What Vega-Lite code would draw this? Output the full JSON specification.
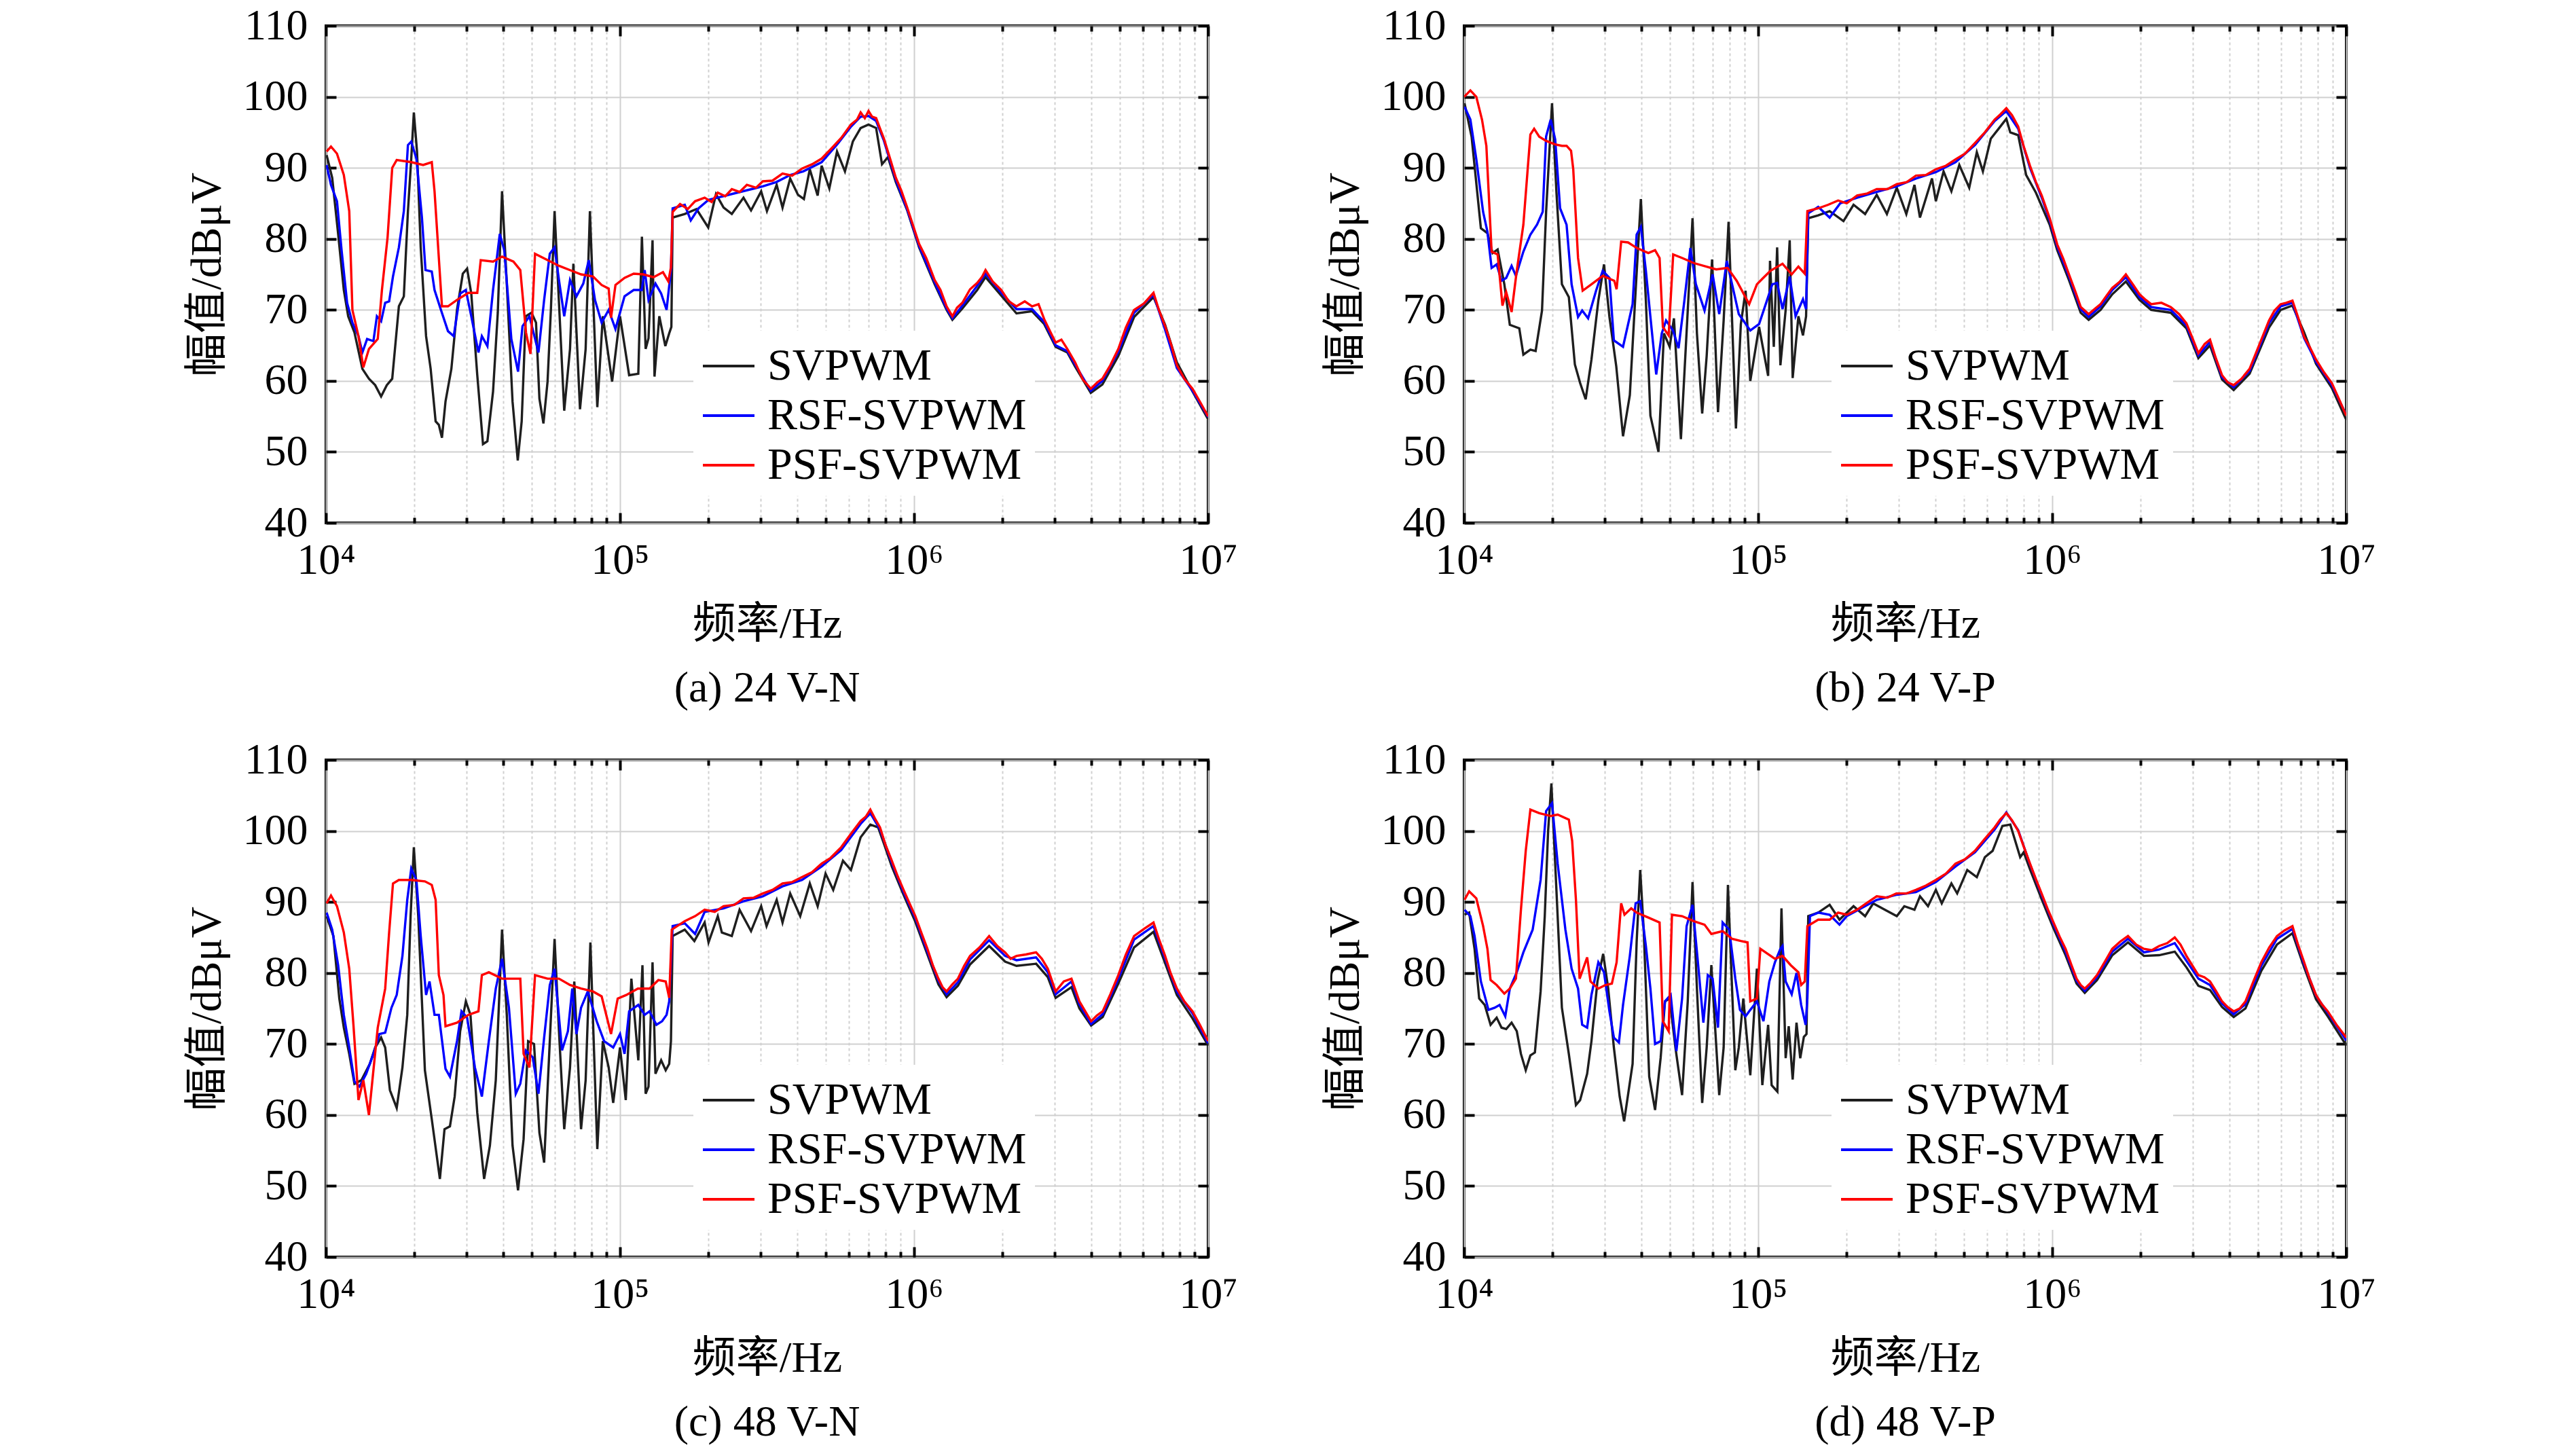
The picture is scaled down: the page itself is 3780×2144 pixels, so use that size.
{
  "$schema": "https://vega.github.io/schema/vega-lite/v6.json",
  "background": "white",
  "padding": {"left": 271, "top": 4, "right": 0, "bottom": 0},
  "config": {
    "font": "Liberation Serif, Noto Sans CJK SC",
    "view": {"stroke": "#000000", "strokeWidth": 4},
    "axis": {
      "labelFont": "Liberation Serif", "labelFontSize": 64, "labelColor": "#000000",
      "titleFont": "Liberation Serif, Noto Sans CJK SC", "titleFontSize": 64, "titleFontWeight": "normal", "titleColor": "#000000",
      "domain": false, "tickColor": "#000000", "tickWidth": 4, "gridColor": "#d0d0d0", "gridWidth": 2
    },
    "legend": {
      "orient": "none", "legendX": 541, "legendY": 449, "symbolType": "stroke", "symbolSize": 5776, "symbolStrokeWidth": 4,
      "labelFont": "Liberation Serif", "labelFontSize": 66, "labelColor": "#000000", "labelOffset": 17, "labelLimit": 1000,
      "rowPadding": -10, "padding": 12, "fillColor": "#ffffff"
    },
    "title": {"font": "Liberation Serif", "fontSize": 64, "fontWeight": "normal", "color": "#000000", "anchor": "middle"}
  },
  "datasets": {
    "a": [
      {"s":"k","f":10050,"v":91.8},{"s":"k","f":10500,"v":88.6},{"s":"k","f":11000,"v":80.7},{"s":"k","f":11500,"v":72.8},{"s":"k","f":11900,"v":69.1},{"s":"k","f":12500,"v":66.8},{"s":"k","f":13300,"v":61.7},{"s":"k","f":14000,"v":60.3},{"s":"k","f":14700,"v":59.4},{"s":"k","f":15400,"v":57.8},{"s":"k","f":16100,"v":59.4},{"s":"k","f":16800,"v":60.3},{"s":"k","f":17700,"v":70.5},{"s":"k","f":18400,"v":71.9},{"s":"k","f":19000,"v":83.9},{"s":"k","f":19500,"v":91.3},{"s":"k","f":19900,"v":97.8},{"s":"k","f":20400,"v":92.3},{"s":"k","f":21000,"v":78.8},{"s":"k","f":21900,"v":66.3},{"s":"k","f":22700,"v":61.7},{"s":"k","f":23600,"v":54.3},{"s":"k","f":24200,"v":53.8},{"s":"k","f":24800,"v":52.0},{"s":"k","f":25500,"v":57.1},{"s":"k","f":26700,"v":61.7},{"s":"k","f":27900,"v":70.0},{"s":"k","f":29200,"v":75.1},{"s":"k","f":30200,"v":75.8},{"s":"k","f":31200,"v":72.3},{"s":"k","f":32700,"v":60.8},{"s":"k","f":34200,"v":51.1},{"s":"k","f":35400,"v":51.5},{"s":"k","f":37000,"v":58.5},{"s":"k","f":38400,"v":69.6},{"s":"k","f":39700,"v":86.7},{"s":"k","f":41200,"v":73.7},{"s":"k","f":43100,"v":57.1},{"s":"k","f":44900,"v":48.8},{"s":"k","f":46300,"v":54.3},{"s":"k","f":47800,"v":69.1},{"s":"k","f":50000,"v":69.6},{"s":"k","f":51800,"v":68.2},{"s":"k","f":53200,"v":57.5},{"s":"k","f":54900,"v":54.0},{"s":"k","f":56700,"v":59.9},{"s":"k","f":58200,"v":70.0},{"s":"k","f":59900,"v":83.9},{"s":"k","f":62000,"v":71.0},{"s":"k","f":64600,"v":55.8},{"s":"k","f":67600,"v":64.5},{"s":"k","f":69400,"v":76.5},{"s":"k","f":73100,"v":56.0},{"s":"k","f":76400,"v":64.5},{"s":"k","f":79000,"v":83.9},{"s":"k","f":83700,"v":56.3},{"s":"k","f":87400,"v":69.1},{"s":"k","f":94000,"v":59.9},{"s":"k","f":100000,"v":69.1},{"s":"k","f":107400,"v":60.8},{"s":"k","f":115400,"v":61.0},{"s":"k","f":118700,"v":80.3},{"s":"k","f":122200,"v":64.5},{"s":"k","f":125000,"v":66.0},{"s":"k","f":129000,"v":79.8},{"s":"k","f":131000,"v":60.6},{"s":"k","f":136000,"v":69.1},{"s":"k","f":142600,"v":64.9},{"s":"k","f":147000,"v":66.7},{"s":"k","f":149500,"v":67.6},{"s":"k","f":151000,"v":83.0},{"s":"k","f":166000,"v":83.5},{"s":"k","f":182000,"v":84.2},{"s":"k","f":199500,"v":81.6},{"s":"k","f":212000,"v":86.3},{"s":"k","f":225000,"v":84.4},{"s":"k","f":240000,"v":83.5},{"s":"k","f":263000,"v":85.8},{"s":"k","f":279000,"v":84.0},{"s":"k","f":302000,"v":86.7},{"s":"k","f":316000,"v":83.9},{"s":"k","f":341000,"v":87.6},{"s":"k","f":357000,"v":84.4},{"s":"k","f":379000,"v":88.5},{"s":"k","f":403000,"v":86.2},{"s":"k","f":422000,"v":85.6},{"s":"k","f":442000,"v":89.8},{"s":"k","f":470000,"v":86.1},{"s":"k","f":485000,"v":90.3},{"s":"k","f":515000,"v":87.1},{"s":"k","f":547000,"v":92.3},{"s":"k","f":582000,"v":89.5},{"s":"k","f":619000,"v":93.7},{"s":"k","f":658000,"v":95.6},{"s":"k","f":700000,"v":96.1},{"s":"k","f":743000,"v":95.6},{"s":"k","f":778000,"v":90.5},{"s":"k","f":815000,"v":91.5},{"s":"k","f":867000,"v":88.0},{"s":"k","f":948000,"v":84.0},{"s":"k","f":1040000,"v":78.8},{"s":"k","f":1175000,"v":73.6},{"s":"k","f":1290000,"v":70.0},{"s":"k","f":1350000,"v":68.6},{"s":"k","f":1460000,"v":70.2},{"s":"k","f":1640000,"v":72.8},{"s":"k","f":1750000,"v":74.6},{"s":"k","f":1980000,"v":72.0},{"s":"k","f":2230000,"v":69.5},{"s":"k","f":2520000,"v":69.8},{"s":"k","f":2770000,"v":68.0},{"s":"k","f":3030000,"v":64.8},{"s":"k","f":3320000,"v":64.0},{"s":"k","f":3530000,"v":62.0},{"s":"k","f":3990000,"v":58.3},{"s":"k","f":4370000,"v":59.5},{"s":"k","f":4950000,"v":63.5},{"s":"k","f":5600000,"v":69.0},{"s":"k","f":6520000,"v":71.8},{"s":"k","f":7140000,"v":67.9},{"s":"k","f":7830000,"v":62.6},{"s":"k","f":8850000,"v":58.5},{"s":"k","f":10000000,"v":54.6},
      {"s":"b","f":10050,"v":90.4},{"s":"b","f":10400,"v":87.6},{"s":"b","f":10900,"v":85.3},{"s":"b","f":11300,"v":78.4},{"s":"b","f":11800,"v":71.0},{"s":"b","f":12300,"v":68.2},{"s":"b","f":12900,"v":66.3},{"s":"b","f":13300,"v":64.0},{"s":"b","f":13800,"v":65.9},{"s":"b","f":14500,"v":65.6},{"s":"b","f":14900,"v":69.1},{"s":"b","f":15400,"v":68.4},{"s":"b","f":15900,"v":71.0},{"s":"b","f":16400,"v":71.2},{"s":"b","f":16900,"v":74.7},{"s":"b","f":17700,"v":78.8},{"s":"b","f":18400,"v":83.9},{"s":"b","f":19000,"v":93.2},{"s":"b","f":19500,"v":93.7},{"s":"b","f":20300,"v":91.3},{"s":"b","f":21200,"v":83.0},{"s":"b","f":21800,"v":75.6},{"s":"b","f":22900,"v":75.4},{"s":"b","f":23400,"v":72.8},{"s":"b","f":24600,"v":70.0},{"s":"b","f":26000,"v":67.0},{"s":"b","f":27200,"v":66.3},{"s":"b","f":28600,"v":72.3},{"s":"b","f":29900,"v":72.8},{"s":"b","f":31200,"v":69.1},{"s":"b","f":33000,"v":64.0},{"s":"b","f":33900,"v":66.3},{"s":"b","f":35400,"v":64.9},{"s":"b","f":37000,"v":72.8},{"s":"b","f":39000,"v":80.7},{"s":"b","f":40400,"v":78.4},{"s":"b","f":42700,"v":65.9},{"s":"b","f":45000,"v":61.3},{"s":"b","f":46600,"v":67.7},{"s":"b","f":49200,"v":69.1},{"s":"b","f":52800,"v":64.0},{"s":"b","f":55200,"v":71.4},{"s":"b","f":57700,"v":77.9},{"s":"b","f":59900,"v":78.8},{"s":"b","f":62000,"v":74.2},{"s":"b","f":64600,"v":69.1},{"s":"b","f":67600,"v":74.2},{"s":"b","f":71100,"v":71.9},{"s":"b","f":75000,"v":73.7},{"s":"b","f":78300,"v":77.0},{"s":"b","f":82200,"v":71.4},{"s":"b","f":86600,"v":68.2},{"s":"b","f":91500,"v":70.0},{"s":"b","f":96500,"v":67.3},{"s":"b","f":103600,"v":71.9},{"s":"b","f":111300,"v":72.8},{"s":"b","f":118600,"v":72.8},{"s":"b","f":121300,"v":75.6},{"s":"b","f":125000,"v":71.4},{"s":"b","f":132000,"v":73.7},{"s":"b","f":138000,"v":72.3},{"s":"b","f":144000,"v":70.0},{"s":"b","f":149000,"v":75.6},{"s":"b","f":151000,"v":84.3},{"s":"b","f":166000,"v":84.8},{"s":"b","f":174000,"v":82.6},{"s":"b","f":185000,"v":84.3},{"s":"b","f":200000,"v":85.5},{"s":"b","f":225000,"v":86.0},{"s":"b","f":250000,"v":86.5},{"s":"b","f":280000,"v":87.0},{"s":"b","f":306000,"v":87.4},{"s":"b","f":340000,"v":88.0},{"s":"b","f":380000,"v":89.0},{"s":"b","f":420000,"v":89.5},{"s":"b","f":485000,"v":90.8},{"s":"b","f":550000,"v":93.4},{"s":"b","f":610000,"v":95.8},{"s":"b","f":658000,"v":97.2},{"s":"b","f":700000,"v":97.3},{"s":"b","f":743000,"v":96.6},{"s":"b","f":790000,"v":93.8},{"s":"b","f":867000,"v":88.3},{"s":"b","f":948000,"v":84.1},{"s":"b","f":1040000,"v":79.0},{"s":"b","f":1175000,"v":73.9},{"s":"b","f":1290000,"v":70.2},{"s":"b","f":1350000,"v":68.8},{"s":"b","f":1460000,"v":70.6},{"s":"b","f":1640000,"v":73.4},{"s":"b","f":1750000,"v":75.1},{"s":"b","f":1980000,"v":72.4},{"s":"b","f":2230000,"v":70.1},{"s":"b","f":2520000,"v":70.1},{"s":"b","f":2770000,"v":68.3},{"s":"b","f":3030000,"v":65.0},{"s":"b","f":3320000,"v":64.2},{"s":"b","f":3530000,"v":62.3},{"s":"b","f":3990000,"v":58.6},{"s":"b","f":4370000,"v":60.0},{"s":"b","f":4950000,"v":64.1},{"s":"b","f":5600000,"v":69.6},{"s":"b","f":6520000,"v":72.1},{"s":"b","f":7140000,"v":67.2},{"s":"b","f":7830000,"v":61.8},{"s":"b","f":8850000,"v":58.6},{"s":"b","f":10000000,"v":54.9},
      {"s":"r","f":10050,"v":92.3},{"s":"r","f":10400,"v":93.0},{"s":"r","f":10900,"v":92.0},{"s":"r","f":11500,"v":89.0},{"s":"r","f":12000,"v":83.9},{"s":"r","f":12300,"v":70.0},{"s":"r","f":12900,"v":66.3},{"s":"r","f":13400,"v":61.9},{"s":"r","f":14000,"v":64.5},{"s":"r","f":15000,"v":65.9},{"s":"r","f":15500,"v":72.8},{"s":"r","f":16200,"v":80.2},{"s":"r","f":16800,"v":90.0},{"s":"r","f":17400,"v":91.1},{"s":"r","f":19500,"v":90.8},{"s":"r","f":21400,"v":90.4},{"s":"r","f":22900,"v":90.8},{"s":"r","f":23400,"v":86.7},{"s":"r","f":24800,"v":70.5},{"s":"r","f":26000,"v":70.5},{"s":"r","f":27900,"v":71.4},{"s":"r","f":30500,"v":72.4},{"s":"r","f":32700,"v":72.4},{"s":"r","f":33600,"v":77.0},{"s":"r","f":37000,"v":76.8},{"s":"r","f":39700,"v":77.5},{"s":"r","f":43400,"v":76.8},{"s":"r","f":45800,"v":75.6},{"s":"r","f":47900,"v":66.8},{"s":"r","f":49600,"v":63.8},{"s":"r","f":51400,"v":77.9},{"s":"r","f":56700,"v":77.0},{"s":"r","f":62000,"v":76.2},{"s":"r","f":67600,"v":75.6},{"s":"r","f":73700,"v":75.0},{"s":"r","f":80900,"v":74.7},{"s":"r","f":86600,"v":73.5},{"s":"r","f":91500,"v":73.0},{"s":"r","f":93200,"v":68.9},{"s":"r","f":96500,"v":73.5},{"s":"r","f":103600,"v":74.5},{"s":"r","f":111300,"v":75.1},{"s":"r","f":120000,"v":75.0},{"s":"r","f":130000,"v":74.6},{"s":"r","f":140000,"v":75.3},{"s":"r","f":146000,"v":74.0},{"s":"r","f":149000,"v":76.0},{"s":"r","f":151000,"v":83.8},{"s":"r","f":160000,"v":84.9},{"s":"r","f":170000,"v":84.2},{"s":"r","f":180000,"v":85.3},{"s":"r","f":194000,"v":85.8},{"s":"r","f":205000,"v":85.2},{"s":"r","f":215000,"v":86.5},{"s":"r","f":228000,"v":86.0},{"s":"r","f":240000,"v":87.0},{"s":"r","f":255000,"v":86.6},{"s":"r","f":270000,"v":87.6},{"s":"r","f":290000,"v":87.2},{"s":"r","f":306000,"v":88.1},{"s":"r","f":330000,"v":88.2},{"s":"r","f":357000,"v":89.2},{"s":"r","f":385000,"v":88.9},{"s":"r","f":416000,"v":89.9},{"s":"r","f":450000,"v":90.5},{"s":"r","f":485000,"v":91.3},{"s":"r","f":520000,"v":92.6},{"s":"r","f":565000,"v":94.2},{"s":"r","f":610000,"v":96.1},{"s":"r","f":640000,"v":96.8},{"s":"r","f":658000,"v":97.8},{"s":"r","f":680000,"v":97.0},{"s":"r","f":700000,"v":98.0},{"s":"r","f":720000,"v":97.2},{"s":"r","f":743000,"v":97.0},{"s":"r","f":765000,"v":95.6},{"s":"r","f":790000,"v":94.1},{"s":"r","f":830000,"v":91.2},{"s":"r","f":867000,"v":88.6},{"s":"r","f":905000,"v":86.8},{"s":"r","f":948000,"v":84.4},{"s":"r","f":990000,"v":82.0},{"s":"r","f":1040000,"v":79.3},{"s":"r","f":1100000,"v":77.3},{"s":"r","f":1175000,"v":74.2},{"s":"r","f":1230000,"v":72.8},{"s":"r","f":1290000,"v":70.5},{"s":"r","f":1350000,"v":69.1},{"s":"r","f":1400000,"v":70.3},{"s":"r","f":1460000,"v":71.0},{"s":"r","f":1550000,"v":72.9},{"s":"r","f":1640000,"v":73.8},{"s":"r","f":1700000,"v":74.6},{"s":"r","f":1750000,"v":75.6},{"s":"r","f":1850000,"v":74.0},{"s":"r","f":1980000,"v":72.8},{"s":"r","f":2100000,"v":71.2},{"s":"r","f":2230000,"v":70.5},{"s":"r","f":2380000,"v":71.2},{"s":"r","f":2520000,"v":70.5},{"s":"r","f":2650000,"v":70.8},{"s":"r","f":2770000,"v":68.7},{"s":"r","f":2900000,"v":67.0},{"s":"r","f":3030000,"v":65.4},{"s":"r","f":3170000,"v":65.8},{"s":"r","f":3320000,"v":64.5},{"s":"r","f":3530000,"v":62.6},{"s":"r","f":3750000,"v":60.2},{"s":"r","f":3990000,"v":58.9},{"s":"r","f":4200000,"v":59.8},{"s":"r","f":4370000,"v":60.3},{"s":"r","f":4650000,"v":62.2},{"s":"r","f":4950000,"v":64.5},{"s":"r","f":5250000,"v":67.5},{"s":"r","f":5600000,"v":70.0},{"s":"r","f":6050000,"v":70.9},{"s":"r","f":6520000,"v":72.4},{"s":"r","f":6800000,"v":70.0},{"s":"r","f":7140000,"v":67.7},{"s":"r","f":7500000,"v":65.0},{"s":"r","f":7830000,"v":62.2},{"s":"r","f":8300000,"v":60.3},{"s":"r","f":8850000,"v":58.9},{"s":"r","f":9400000,"v":57.0},{"s":"r","f":10000000,"v":55.0}
    ],
    "b": [
      {"s":"k","f":10030,"v":99.1},{"s":"k","f":10600,"v":94.4},{"s":"k","f":11400,"v":81.5},{"s":"k","f":12000,"v":80.8},{"s":"k","f":12500,"v":78.0},{"s":"k","f":13000,"v":78.5},{"s":"k","f":13700,"v":73.6},{"s":"k","f":14300,"v":67.9},{"s":"k","f":15400,"v":67.4},{"s":"k","f":15900,"v":63.7},{"s":"k","f":16800,"v":64.4},{"s":"k","f":17500,"v":64.2},{"s":"k","f":18400,"v":69.9},{"s":"k","f":19000,"v":83.8},{"s":"k","f":19900,"v":99.1},{"s":"k","f":20600,"v":86.6},{"s":"k","f":21500,"v":73.6},{"s":"k","f":22700,"v":71.8},{"s":"k","f":23800,"v":62.3},{"s":"k","f":24800,"v":59.7},{"s":"k","f":25900,"v":57.4},{"s":"k","f":27100,"v":63.0},{"s":"k","f":28600,"v":71.3},{"s":"k","f":29900,"v":76.4},{"s":"k","f":31200,"v":69.0},{"s":"k","f":32900,"v":62.1},{"s":"k","f":34700,"v":52.2},{"s":"k","f":36600,"v":58.0},{"s":"k","f":38300,"v":72.7},{"s":"k","f":39900,"v":85.6},{"s":"k","f":41500,"v":71.3},{"s":"k","f":43000,"v":55.1},{"s":"k","f":45800,"v":50.0},{"s":"k","f":47800,"v":66.7},{"s":"k","f":50000,"v":64.8},{"s":"k","f":51700,"v":68.8},{"s":"k","f":54600,"v":51.8},{"s":"k","f":57600,"v":69.9},{"s":"k","f":59800,"v":82.9},{"s":"k","f":61900,"v":66.7},{"s":"k","f":64500,"v":55.4},{"s":"k","f":66800,"v":63.5},{"s":"k","f":69700,"v":77.1},{"s":"k","f":73000,"v":55.6},{"s":"k","f":76300,"v":68.5},{"s":"k","f":79300,"v":82.4},{"s":"k","f":84000,"v":53.3},{"s":"k","f":87300,"v":68.0},{"s":"k","f":90600,"v":72.7},{"s":"k","f":94000,"v":60.0},{"s":"k","f":100700,"v":67.6},{"s":"k","f":108100,"v":60.7},{"s":"k","f":109700,"v":76.9},{"s":"k","f":113000,"v":64.8},{"s":"k","f":116000,"v":78.8},{"s":"k","f":119000,"v":62.2},{"s":"k","f":124000,"v":70.0},{"s":"k","f":128000,"v":79.8},{"s":"k","f":131000,"v":60.4},{"s":"k","f":137000,"v":69.1},{"s":"k","f":142000,"v":66.4},{"s":"k","f":145500,"v":69.1},{"s":"k","f":148000,"v":82.9},{"s":"k","f":160000,"v":83.3},{"s":"k","f":175000,"v":83.9},{"s":"k","f":195000,"v":82.5},{"s":"k","f":211000,"v":84.8},{"s":"k","f":231000,"v":83.5},{"s":"k","f":253000,"v":86.2},{"s":"k","f":274000,"v":83.5},{"s":"k","f":296000,"v":87.2},{"s":"k","f":319000,"v":83.5},{"s":"k","f":340000,"v":87.6},{"s":"k","f":355000,"v":83.0},{"s":"k","f":390000,"v":88.5},{"s":"k","f":402000,"v":85.3},{"s":"k","f":427000,"v":89.5},{"s":"k","f":454000,"v":86.7},{"s":"k","f":483000,"v":90.4},{"s":"k","f":522000,"v":87.2},{"s":"k","f":554000,"v":92.2},{"s":"k","f":581000,"v":89.5},{"s":"k","f":618000,"v":94.1},{"s":"k","f":657000,"v":95.5},{"s":"k","f":698000,"v":96.9},{"s":"k","f":720000,"v":95.0},{"s":"k","f":766000,"v":94.6},{"s":"k","f":815000,"v":89.0},{"s":"k","f":880000,"v":86.5},{"s":"k","f":980000,"v":82.0},{"s":"k","f":1040000,"v":78.4},{"s":"k","f":1140000,"v":74.2},{"s":"k","f":1250000,"v":69.6},{"s":"k","f":1330000,"v":68.6},{"s":"k","f":1460000,"v":70.0},{"s":"k","f":1600000,"v":72.2},{"s":"k","f":1780000,"v":74.0},{"s":"k","f":1980000,"v":71.4},{"s":"k","f":2170000,"v":70.0},{"s":"k","f":2530000,"v":69.6},{"s":"k","f":2860000,"v":67.4},{"s":"k","f":3140000,"v":63.2},{"s":"k","f":3440000,"v":65.0},{"s":"k","f":3780000,"v":60.2},{"s":"k","f":4140000,"v":58.7},{"s":"k","f":4690000,"v":61.0},{"s":"k","f":5460000,"v":67.5},{"s":"k","f":5980000,"v":70.0},{"s":"k","f":6560000,"v":70.6},{"s":"k","f":7190000,"v":66.8},{"s":"k","f":7890000,"v":62.4},{"s":"k","f":8930000,"v":59.0},{"s":"k","f":10000000,"v":54.5},
      {"s":"b","f":10030,"v":98.6},{"s":"b","f":10500,"v":96.8},{"s":"b","f":11000,"v":91.2},{"s":"b","f":11600,"v":83.8},{"s":"b","f":12000,"v":81.0},{"s":"b","f":12400,"v":75.9},{"s":"b","f":12900,"v":76.4},{"s":"b","f":13400,"v":74.1},{"s":"b","f":13900,"v":74.5},{"s":"b","f":14500,"v":76.2},{"s":"b","f":15000,"v":74.8},{"s":"b","f":15900,"v":78.2},{"s":"b","f":16800,"v":80.6},{"s":"b","f":17700,"v":82.0},{"s":"b","f":18500,"v":83.8},{"s":"b","f":19000,"v":94.4},{"s":"b","f":19700,"v":96.8},{"s":"b","f":20400,"v":94.0},{"s":"b","f":21200,"v":84.3},{"s":"b","f":22300,"v":82.0},{"s":"b","f":23200,"v":73.6},{"s":"b","f":24400,"v":69.0},{"s":"b","f":25200,"v":69.9},{"s":"b","f":26400,"v":68.8},{"s":"b","f":28100,"v":72.7},{"s":"b","f":29600,"v":75.5},{"s":"b","f":31200,"v":74.5},{"s":"b","f":32300,"v":65.7},{"s":"b","f":34700,"v":64.8},{"s":"b","f":37400,"v":70.8},{"s":"b","f":38600,"v":80.6},{"s":"b","f":39900,"v":81.7},{"s":"b","f":41500,"v":75.5},{"s":"b","f":43000,"v":69.0},{"s":"b","f":45000,"v":60.9},{"s":"b","f":47000,"v":66.7},{"s":"b","f":48600,"v":68.5},{"s":"b","f":51300,"v":67.1},{"s":"b","f":53600,"v":64.6},{"s":"b","f":56100,"v":71.3},{"s":"b","f":58800,"v":78.7},{"s":"b","f":61400,"v":73.6},{"s":"b","f":65700,"v":69.9},{"s":"b","f":70000,"v":75.0},{"s":"b","f":73700,"v":69.4},{"s":"b","f":78200,"v":76.9},{"s":"b","f":85900,"v":69.4},{"s":"b","f":94000,"v":67.1},{"s":"b","f":100700,"v":68.0},{"s":"b","f":111700,"v":73.6},{"s":"b","f":116000,"v":73.8},{"s":"b","f":121000,"v":70.1},{"s":"b","f":128000,"v":74.7},{"s":"b","f":134000,"v":69.1},{"s":"b","f":142000,"v":71.5},{"s":"b","f":145500,"v":70.1},{"s":"b","f":148000,"v":83.6},{"s":"b","f":160000,"v":84.5},{"s":"b","f":175000,"v":83.0},{"s":"b","f":190000,"v":85.0},{"s":"b","f":217000,"v":85.8},{"s":"b","f":253000,"v":86.6},{"s":"b","f":296000,"v":87.4},{"s":"b","f":344000,"v":88.5},{"s":"b","f":402000,"v":89.4},{"s":"b","f":469000,"v":90.8},{"s":"b","f":546000,"v":93.2},{"s":"b","f":637000,"v":96.6},{"s":"b","f":698000,"v":98.0},{"s":"b","f":766000,"v":95.5},{"s":"b","f":840000,"v":90.0},{"s":"b","f":921000,"v":85.8},{"s":"b","f":980000,"v":82.6},{"s":"b","f":1040000,"v":78.9},{"s":"b","f":1140000,"v":74.7},{"s":"b","f":1250000,"v":70.1},{"s":"b","f":1330000,"v":69.0},{"s":"b","f":1460000,"v":70.5},{"s":"b","f":1600000,"v":72.8},{"s":"b","f":1780000,"v":74.6},{"s":"b","f":1980000,"v":71.8},{"s":"b","f":2170000,"v":70.4},{"s":"b","f":2530000,"v":70.0},{"s":"b","f":2860000,"v":67.8},{"s":"b","f":3140000,"v":63.6},{"s":"b","f":3440000,"v":65.5},{"s":"b","f":3780000,"v":60.5},{"s":"b","f":4140000,"v":59.1},{"s":"b","f":4690000,"v":61.4},{"s":"b","f":5460000,"v":68.1},{"s":"b","f":5980000,"v":70.5},{"s":"b","f":6560000,"v":71.0},{"s":"b","f":7190000,"v":66.0},{"s":"b","f":7890000,"v":62.7},{"s":"b","f":8930000,"v":59.4},{"s":"b","f":10000000,"v":55.2},
      {"s":"r","f":10000,"v":100.0},{"s":"r","f":10500,"v":100.9},{"s":"r","f":11000,"v":100.0},{"s":"r","f":11500,"v":96.8},{"s":"r","f":11900,"v":93.1},{"s":"r","f":12400,"v":78.2},{"s":"r","f":13000,"v":77.8},{"s":"r","f":13500,"v":70.6},{"s":"r","f":13900,"v":72.5},{"s":"r","f":14500,"v":69.7},{"s":"r","f":15100,"v":75.5},{"s":"r","f":15900,"v":82.0},{"s":"r","f":16800,"v":94.7},{"s":"r","f":17300,"v":95.5},{"s":"r","f":18000,"v":94.4},{"s":"r","f":19000,"v":93.8},{"s":"r","f":20400,"v":93.3},{"s":"r","f":21500,"v":93.1},{"s":"r","f":22300,"v":93.1},{"s":"r","f":23100,"v":92.4},{"s":"r","f":23500,"v":89.8},{"s":"r","f":24400,"v":77.3},{"s":"r","f":25300,"v":72.7},{"s":"r","f":27100,"v":73.6},{"s":"r","f":29600,"v":74.8},{"s":"r","f":32400,"v":74.1},{"s":"r","f":33000,"v":72.9},{"s":"r","f":34200,"v":79.6},{"s":"r","f":36100,"v":79.5},{"s":"r","f":38700,"v":78.7},{"s":"r","f":42300,"v":78.0},{"s":"r","f":44600,"v":78.4},{"s":"r","f":46200,"v":77.3},{"s":"r","f":47400,"v":67.6},{"s":"r","f":49600,"v":66.4},{"s":"r","f":51400,"v":77.8},{"s":"r","f":55200,"v":77.3},{"s":"r","f":60300,"v":76.6},{"s":"r","f":72000,"v":75.7},{"s":"r","f":78700,"v":75.9},{"s":"r","f":84500,"v":74.1},{"s":"r","f":93200,"v":70.8},{"s":"r","f":99000,"v":73.6},{"s":"r","f":104000,"v":74.5},{"s":"r","f":110000,"v":75.5},{"s":"r","f":121000,"v":76.5},{"s":"r","f":130000,"v":75.0},{"s":"r","f":137000,"v":76.1},{"s":"r","f":144000,"v":75.1},{"s":"r","f":147000,"v":83.9},{"s":"r","f":160000,"v":84.3},{"s":"r","f":173000,"v":84.8},{"s":"r","f":187000,"v":85.4},{"s":"r","f":200000,"v":85.0},{"s":"r","f":217000,"v":86.1},{"s":"r","f":235000,"v":86.4},{"s":"r","f":253000,"v":87.0},{"s":"r","f":275000,"v":87.0},{"s":"r","f":296000,"v":87.7},{"s":"r","f":320000,"v":88.0},{"s":"r","f":344000,"v":88.9},{"s":"r","f":372000,"v":89.0},{"s":"r","f":402000,"v":89.8},{"s":"r","f":435000,"v":90.3},{"s":"r","f":469000,"v":91.2},{"s":"r","f":505000,"v":92.0},{"s":"r","f":546000,"v":93.5},{"s":"r","f":590000,"v":95.0},{"s":"r","f":637000,"v":96.8},{"s":"r","f":665000,"v":97.5},{"s":"r","f":698000,"v":98.4},{"s":"r","f":730000,"v":97.4},{"s":"r","f":766000,"v":95.8},{"s":"r","f":800000,"v":93.0},{"s":"r","f":840000,"v":90.3},{"s":"r","f":880000,"v":88.0},{"s":"r","f":921000,"v":86.1},{"s":"r","f":980000,"v":82.9},{"s":"r","f":1040000,"v":79.2},{"s":"r","f":1090000,"v":77.2},{"s":"r","f":1140000,"v":75.0},{"s":"r","f":1200000,"v":72.5},{"s":"r","f":1250000,"v":70.4},{"s":"r","f":1330000,"v":69.4},{"s":"r","f":1400000,"v":70.2},{"s":"r","f":1460000,"v":70.8},{"s":"r","f":1530000,"v":72.0},{"s":"r","f":1600000,"v":73.1},{"s":"r","f":1700000,"v":74.0},{"s":"r","f":1780000,"v":75.0},{"s":"r","f":1880000,"v":73.6},{"s":"r","f":1980000,"v":72.2},{"s":"r","f":2080000,"v":71.4},{"s":"r","f":2170000,"v":70.8},{"s":"r","f":2350000,"v":71.0},{"s":"r","f":2530000,"v":70.4},{"s":"r","f":2700000,"v":69.4},{"s":"r","f":2860000,"v":68.1},{"s":"r","f":3000000,"v":66.0},{"s":"r","f":3140000,"v":63.9},{"s":"r","f":3300000,"v":65.2},{"s":"r","f":3440000,"v":65.8},{"s":"r","f":3600000,"v":63.2},{"s":"r","f":3780000,"v":60.8},{"s":"r","f":3950000,"v":59.8},{"s":"r","f":4140000,"v":59.4},{"s":"r","f":4400000,"v":60.3},{"s":"r","f":4690000,"v":61.7},{"s":"r","f":5050000,"v":65.0},{"s":"r","f":5460000,"v":68.5},{"s":"r","f":5700000,"v":69.9},{"s":"r","f":5980000,"v":70.8},{"s":"r","f":6250000,"v":71.0},{"s":"r","f":6560000,"v":71.3},{"s":"r","f":6850000,"v":69.0},{"s":"r","f":7190000,"v":66.2},{"s":"r","f":7500000,"v":64.8},{"s":"r","f":7890000,"v":63.0},{"s":"r","f":8400000,"v":61.2},{"s":"r","f":8930000,"v":59.7},{"s":"r","f":9450000,"v":57.4},{"s":"r","f":10000000,"v":55.1}
    ],
    "c": [
      {"s":"k","f":10050,"v":88.0},{"s":"k","f":10600,"v":85.2},{"s":"k","f":11100,"v":76.4},{"s":"k","f":11500,"v":72.3},{"s":"k","f":12000,"v":68.6},{"s":"k","f":12500,"v":64.4},{"s":"k","f":13200,"v":64.9},{"s":"k","f":14100,"v":67.2},{"s":"k","f":14700,"v":69.5},{"s":"k","f":15400,"v":70.9},{"s":"k","f":15900,"v":69.5},{"s":"k","f":16500,"v":63.5},{"s":"k","f":17400,"v":61.0},{"s":"k","f":18200,"v":66.7},{"s":"k","f":18900,"v":74.1},{"s":"k","f":19400,"v":88.0},{"s":"k","f":19900,"v":97.7},{"s":"k","f":20600,"v":88.0},{"s":"k","f":21700,"v":66.3},{"s":"k","f":22900,"v":59.4},{"s":"k","f":24400,"v":51.0},{"s":"k","f":25300,"v":58.0},{"s":"k","f":26400,"v":58.4},{"s":"k","f":27400,"v":62.6},{"s":"k","f":28600,"v":71.8},{"s":"k","f":29900,"v":76.0},{"s":"k","f":31000,"v":74.1},{"s":"k","f":32700,"v":60.3},{"s":"k","f":34500,"v":51.0},{"s":"k","f":36100,"v":55.7},{"s":"k","f":37800,"v":64.9},{"s":"k","f":39700,"v":86.1},{"s":"k","f":41200,"v":74.1},{"s":"k","f":43100,"v":55.7},{"s":"k","f":45000,"v":49.4},{"s":"k","f":47000,"v":56.6},{"s":"k","f":48700,"v":70.4},{"s":"k","f":51000,"v":70.0},{"s":"k","f":53200,"v":57.5},{"s":"k","f":55200,"v":53.3},{"s":"k","f":57700,"v":70.4},{"s":"k","f":59900,"v":84.8},{"s":"k","f":62000,"v":71.8},{"s":"k","f":64600,"v":58.0},{"s":"k","f":67600,"v":66.7},{"s":"k","f":69900,"v":78.8},{"s":"k","f":73700,"v":58.0},{"s":"k","f":76400,"v":64.9},{"s":"k","f":79300,"v":84.3},{"s":"k","f":83700,"v":55.2},{"s":"k","f":87400,"v":70.4},{"s":"k","f":91500,"v":66.7},{"s":"k","f":94800,"v":61.7},{"s":"k","f":100000,"v":69.5},{"s":"k","f":104600,"v":62.1},{"s":"k","f":109300,"v":79.2},{"s":"k","f":115400,"v":67.7},{"s":"k","f":119200,"v":81.1},{"s":"k","f":122200,"v":63.0},{"s":"k","f":125000,"v":64.0},{"s":"k","f":129000,"v":81.5},{"s":"k","f":132000,"v":65.8},{"s":"k","f":138000,"v":67.7},{"s":"k","f":143000,"v":66.3},{"s":"k","f":147000,"v":67.2},{"s":"k","f":149000,"v":70.4},{"s":"k","f":151000,"v":85.2},{"s":"k","f":166000,"v":86.1},{"s":"k","f":179000,"v":84.5},{"s":"k","f":194000,"v":87.1},{"s":"k","f":200000,"v":84.3},{"s":"k","f":215000,"v":88.0},{"s":"k","f":222000,"v":85.7},{"s":"k","f":240000,"v":85.2},{"s":"k","f":255000,"v":88.9},{"s":"k","f":279000,"v":85.9},{"s":"k","f":302000,"v":89.4},{"s":"k","f":315000,"v":86.6},{"s":"k","f":341000,"v":90.3},{"s":"k","f":357000,"v":87.1},{"s":"k","f":379000,"v":91.2},{"s":"k","f":410000,"v":88.0},{"s":"k","f":442000,"v":92.6},{"s":"k","f":470000,"v":89.4},{"s":"k","f":500000,"v":94.0},{"s":"k","f":531000,"v":91.7},{"s":"k","f":573000,"v":95.8},{"s":"k","f":610000,"v":94.5},{"s":"k","f":658000,"v":99.1},{"s":"k","f":710000,"v":100.9},{"s":"k","f":755000,"v":100.5},{"s":"k","f":790000,"v":98.2},{"s":"k","f":840000,"v":95.0},{"s":"k","f":921000,"v":91.0},{"s":"k","f":1010000,"v":87.2},{"s":"k","f":1110000,"v":82.6},{"s":"k","f":1210000,"v":78.4},{"s":"k","f":1290000,"v":76.6},{"s":"k","f":1410000,"v":78.2},{"s":"k","f":1550000,"v":81.2},{"s":"k","f":1800000,"v":83.8},{"s":"k","f":2040000,"v":81.6},{"s":"k","f":2230000,"v":81.0},{"s":"k","f":2600000,"v":81.3},{"s":"k","f":2850000,"v":79.4},{"s":"k","f":3030000,"v":76.5},{"s":"k","f":3430000,"v":78.0},{"s":"k","f":3650000,"v":75.0},{"s":"k","f":4000000,"v":72.6},{"s":"k","f":4380000,"v":73.8},{"s":"k","f":4950000,"v":78.5},{"s":"k","f":5600000,"v":83.6},{"s":"k","f":6520000,"v":85.8},{"s":"k","f":7140000,"v":81.4},{"s":"k","f":7830000,"v":76.9},{"s":"k","f":8850000,"v":73.6},{"s":"k","f":10000000,"v":69.8},
      {"s":"b","f":10050,"v":88.5},{"s":"b","f":10500,"v":86.1},{"s":"b","f":11000,"v":81.1},{"s":"b","f":11500,"v":74.1},{"s":"b","f":12000,"v":69.5},{"s":"b","f":12500,"v":64.7},{"s":"b","f":13000,"v":64.0},{"s":"b","f":13700,"v":65.8},{"s":"b","f":14500,"v":68.6},{"s":"b","f":15200,"v":71.4},{"s":"b","f":15900,"v":71.6},{"s":"b","f":16700,"v":75.1},{"s":"b","f":17400,"v":76.9},{"s":"b","f":18200,"v":82.4},{"s":"b","f":18900,"v":90.3},{"s":"b","f":19500,"v":94.7},{"s":"b","f":20300,"v":93.1},{"s":"b","f":21000,"v":85.2},{"s":"b","f":21900,"v":76.9},{"s":"b","f":22500,"v":78.8},{"s":"b","f":23400,"v":74.1},{"s":"b","f":24200,"v":74.1},{"s":"b","f":25500,"v":66.5},{"s":"b","f":26400,"v":65.4},{"s":"b","f":27900,"v":70.4},{"s":"b","f":28900,"v":74.6},{"s":"b","f":30200,"v":73.7},{"s":"b","f":32100,"v":66.7},{"s":"b","f":33900,"v":62.6},{"s":"b","f":35800,"v":70.4},{"s":"b","f":37800,"v":77.8},{"s":"b","f":39700,"v":82.0},{"s":"b","f":41900,"v":75.1},{"s":"b","f":44200,"v":63.0},{"s":"b","f":45800,"v":64.4},{"s":"b","f":47800,"v":69.1},{"s":"b","f":50500,"v":68.1},{"s":"b","f":52800,"v":63.0},{"s":"b","f":55200,"v":70.9},{"s":"b","f":57700,"v":78.3},{"s":"b","f":59900,"v":80.6},{"s":"b","f":63500,"v":69.1},{"s":"b","f":66500,"v":71.8},{"s":"b","f":68800,"v":77.8},{"s":"b","f":71100,"v":71.4},{"s":"b","f":73700,"v":75.1},{"s":"b","f":77700,"v":77.4},{"s":"b","f":83300,"v":73.2},{"s":"b","f":88300,"v":70.4},{"s":"b","f":94800,"v":69.5},{"s":"b","f":100000,"v":71.4},{"s":"b","f":103600,"v":68.6},{"s":"b","f":107400,"v":74.6},{"s":"b","f":115400,"v":75.5},{"s":"b","f":121300,"v":74.1},{"s":"b","f":126000,"v":74.6},{"s":"b","f":133000,"v":72.7},{"s":"b","f":139000,"v":73.2},{"s":"b","f":144000,"v":74.1},{"s":"b","f":147000,"v":76.0},{"s":"b","f":151000,"v":86.6},{"s":"b","f":166000,"v":87.0},{"s":"b","f":180000,"v":85.5},{"s":"b","f":194000,"v":88.6},{"s":"b","f":225000,"v":89.1},{"s":"b","f":263000,"v":90.1},{"s":"b","f":306000,"v":90.8},{"s":"b","f":357000,"v":92.2},{"s":"b","f":416000,"v":93.1},{"s":"b","f":485000,"v":95.0},{"s":"b","f":565000,"v":97.3},{"s":"b","f":658000,"v":101.0},{"s":"b","f":710000,"v":102.5},{"s":"b","f":766000,"v":100.2},{"s":"b","f":840000,"v":95.5},{"s":"b","f":921000,"v":91.4},{"s":"b","f":1010000,"v":87.7},{"s":"b","f":1110000,"v":83.0},{"s":"b","f":1210000,"v":78.9},{"s":"b","f":1290000,"v":77.0},{"s":"b","f":1410000,"v":78.7},{"s":"b","f":1550000,"v":81.9},{"s":"b","f":1800000,"v":84.6},{"s":"b","f":2040000,"v":82.4},{"s":"b","f":2230000,"v":81.8},{"s":"b","f":2600000,"v":82.2},{"s":"b","f":2850000,"v":80.1},{"s":"b","f":3030000,"v":77.0},{"s":"b","f":3430000,"v":78.8},{"s":"b","f":3650000,"v":75.6},{"s":"b","f":4000000,"v":72.8},{"s":"b","f":4380000,"v":74.2},{"s":"b","f":4950000,"v":79.2},{"s":"b","f":5600000,"v":84.7},{"s":"b","f":6520000,"v":86.6},{"s":"b","f":7140000,"v":82.0},{"s":"b","f":7830000,"v":77.4},{"s":"b","f":8850000,"v":74.3},{"s":"b","f":10000000,"v":70.1},
      {"s":"r","f":10050,"v":89.8},{"s":"r","f":10400,"v":90.9},{"s":"r","f":10900,"v":89.4},{"s":"r","f":11500,"v":85.7},{"s":"r","f":12000,"v":80.6},{"s":"r","f":12400,"v":72.7},{"s":"r","f":12900,"v":62.1},{"s":"r","f":13400,"v":64.9},{"s":"r","f":14000,"v":60.0},{"s":"r","f":14500,"v":66.3},{"s":"r","f":15000,"v":72.3},{"s":"r","f":15900,"v":77.8},{"s":"r","f":16400,"v":85.7},{"s":"r","f":16900,"v":92.6},{"s":"r","f":17700,"v":93.1},{"s":"r","f":19500,"v":93.1},{"s":"r","f":21700,"v":92.9},{"s":"r","f":22900,"v":92.4},{"s":"r","f":23600,"v":90.3},{"s":"r","f":24200,"v":79.7},{"s":"r","f":25100,"v":76.9},{"s":"r","f":25500,"v":72.5},{"s":"r","f":27900,"v":73.0},{"s":"r","f":30500,"v":74.1},{"s":"r","f":33000,"v":74.6},{"s":"r","f":33900,"v":79.7},{"s":"r","f":35800,"v":80.1},{"s":"r","f":39700,"v":79.2},{"s":"r","f":43400,"v":79.2},{"s":"r","f":45800,"v":79.2},{"s":"r","f":47000,"v":68.6},{"s":"r","f":49200,"v":66.7},{"s":"r","f":51400,"v":79.7},{"s":"r","f":56700,"v":79.2},{"s":"r","f":62000,"v":79.2},{"s":"r","f":67600,"v":78.3},{"s":"r","f":73700,"v":77.8},{"s":"r","f":80900,"v":77.4},{"s":"r","f":86600,"v":76.7},{"s":"r","f":93200,"v":71.4},{"s":"r","f":98200,"v":76.4},{"s":"r","f":105000,"v":76.9},{"s":"r","f":115000,"v":77.8},{"s":"r","f":126000,"v":77.8},{"s":"r","f":135000,"v":79.0},{"s":"r","f":143000,"v":78.8},{"s":"r","f":147000,"v":76.5},{"s":"r","f":150000,"v":86.1},{"s":"r","f":166000,"v":87.3},{"s":"r","f":180000,"v":88.0},{"s":"r","f":194000,"v":88.9},{"s":"r","f":210000,"v":88.6},{"s":"r","f":225000,"v":89.4},{"s":"r","f":245000,"v":89.6},{"s":"r","f":263000,"v":90.5},{"s":"r","f":285000,"v":90.6},{"s":"r","f":306000,"v":91.2},{"s":"r","f":330000,"v":91.7},{"s":"r","f":357000,"v":92.6},{"s":"r","f":385000,"v":92.8},{"s":"r","f":416000,"v":93.5},{"s":"r","f":450000,"v":94.2},{"s":"r","f":485000,"v":95.4},{"s":"r","f":520000,"v":96.2},{"s":"r","f":565000,"v":97.7},{"s":"r","f":610000,"v":99.6},{"s":"r","f":658000,"v":101.4},{"s":"r","f":685000,"v":102.0},{"s":"r","f":710000,"v":103.0},{"s":"r","f":735000,"v":101.8},{"s":"r","f":766000,"v":100.5},{"s":"r","f":800000,"v":98.0},{"s":"r","f":840000,"v":95.8},{"s":"r","f":880000,"v":93.6},{"s":"r","f":921000,"v":91.7},{"s":"r","f":965000,"v":89.8},{"s":"r","f":1010000,"v":88.0},{"s":"r","f":1060000,"v":85.6},{"s":"r","f":1110000,"v":83.4},{"s":"r","f":1160000,"v":81.0},{"s":"r","f":1210000,"v":79.2},{"s":"r","f":1250000,"v":78.0},{"s":"r","f":1290000,"v":77.4},{"s":"r","f":1350000,"v":78.4},{"s":"r","f":1410000,"v":79.2},{"s":"r","f":1480000,"v":81.0},{"s":"r","f":1550000,"v":82.4},{"s":"r","f":1670000,"v":83.6},{"s":"r","f":1800000,"v":85.2},{"s":"r","f":1920000,"v":83.8},{"s":"r","f":2040000,"v":82.9},{"s":"r","f":2130000,"v":82.0},{"s":"r","f":2230000,"v":82.4},{"s":"r","f":2400000,"v":82.6},{"s":"r","f":2600000,"v":82.9},{"s":"r","f":2720000,"v":82.0},{"s":"r","f":2850000,"v":80.6},{"s":"r","f":3030000,"v":77.4},{"s":"r","f":3230000,"v":78.8},{"s":"r","f":3430000,"v":79.2},{"s":"r","f":3650000,"v":76.0},{"s":"r","f":3820000,"v":74.6},{"s":"r","f":4000000,"v":73.2},{"s":"r","f":4180000,"v":74.0},{"s":"r","f":4380000,"v":74.6},{"s":"r","f":4650000,"v":77.0},{"s":"r","f":4950000,"v":79.7},{"s":"r","f":5250000,"v":82.6},{"s":"r","f":5600000,"v":85.2},{"s":"r","f":6050000,"v":86.2},{"s":"r","f":6520000,"v":87.1},{"s":"r","f":6800000,"v":84.8},{"s":"r","f":7140000,"v":82.4},{"s":"r","f":7450000,"v":80.0},{"s":"r","f":7830000,"v":77.8},{"s":"r","f":8300000,"v":76.0},{"s":"r","f":8850000,"v":74.6},{"s":"r","f":9400000,"v":72.6},{"s":"r","f":10000000,"v":70.4}
    ],
    "d": [
      {"s":"k","f":10030,"v":88.2},{"s":"k","f":10400,"v":88.5},{"s":"k","f":10850,"v":83.4},{"s":"k","f":11250,"v":76.4},{"s":"k","f":11750,"v":75.5},{"s":"k","f":12300,"v":72.7},{"s":"k","f":12900,"v":73.7},{"s":"k","f":13400,"v":72.3},{"s":"k","f":13900,"v":72.1},{"s":"k","f":14500,"v":73.0},{"s":"k","f":15100,"v":71.8},{"s":"k","f":15600,"v":68.6},{"s":"k","f":16200,"v":66.3},{"s":"k","f":16800,"v":68.4},{"s":"k","f":17400,"v":68.8},{"s":"k","f":18200,"v":77.4},{"s":"k","f":18800,"v":88.0},{"s":"k","f":19300,"v":100.0},{"s":"k","f":19800,"v":106.7},{"s":"k","f":20400,"v":95.4},{"s":"k","f":21500,"v":75.1},{"s":"k","f":22700,"v":68.6},{"s":"k","f":24000,"v":61.4},{"s":"k","f":24800,"v":62.1},{"s":"k","f":26200,"v":65.8},{"s":"k","f":27100,"v":70.4},{"s":"k","f":28400,"v":78.8},{"s":"k","f":29700,"v":82.7},{"s":"k","f":30900,"v":77.8},{"s":"k","f":32300,"v":69.5},{"s":"k","f":33800,"v":62.6},{"s":"k","f":35000,"v":59.1},{"s":"k","f":37400,"v":67.2},{"s":"k","f":38600,"v":84.3},{"s":"k","f":39700,"v":94.5},{"s":"k","f":40800,"v":86.1},{"s":"k","f":42600,"v":65.4},{"s":"k","f":44600,"v":60.7},{"s":"k","f":46600,"v":68.1},{"s":"k","f":48200,"v":76.0},{"s":"k","f":50000,"v":76.4},{"s":"k","f":52300,"v":69.5},{"s":"k","f":55100,"v":62.8},{"s":"k","f":57600,"v":76.0},{"s":"k","f":59800,"v":92.8},{"s":"k","f":61900,"v":77.8},{"s":"k","f":64500,"v":61.7},{"s":"k","f":66800,"v":69.5},{"s":"k","f":69300,"v":81.1},{"s":"k","f":73700,"v":62.8},{"s":"k","f":76300,"v":69.5},{"s":"k","f":78900,"v":92.4},{"s":"k","f":83600,"v":66.3},{"s":"k","f":85900,"v":69.5},{"s":"k","f":89000,"v":76.4},{"s":"k","f":94000,"v":65.6},{"s":"k","f":99000,"v":80.6},{"s":"k","f":103300,"v":64.2},{"s":"k","f":108100,"v":72.7},{"s":"k","f":111100,"v":64.2},{"s":"k","f":116200,"v":63.3},{"s":"k","f":120000,"v":89.1},{"s":"k","f":124000,"v":68.0},{"s":"k","f":127000,"v":72.5},{"s":"k","f":131000,"v":65.0},{"s":"k","f":135000,"v":73.0},{"s":"k","f":139000,"v":68.0},{"s":"k","f":143000,"v":71.0},{"s":"k","f":146000,"v":71.4},{"s":"k","f":148000,"v":88.0},{"s":"k","f":160000,"v":88.5},{"s":"k","f":175000,"v":89.6},{"s":"k","f":189000,"v":87.5},{"s":"k","f":211000,"v":89.4},{"s":"k","f":231000,"v":88.0},{"s":"k","f":246000,"v":89.8},{"s":"k","f":270000,"v":88.9},{"s":"k","f":296000,"v":88.0},{"s":"k","f":314000,"v":89.4},{"s":"k","f":340000,"v":88.9},{"s":"k","f":355000,"v":90.8},{"s":"k","f":378000,"v":89.4},{"s":"k","f":402000,"v":91.7},{"s":"k","f":421000,"v":89.8},{"s":"k","f":454000,"v":92.6},{"s":"k","f":475000,"v":91.2},{"s":"k","f":514000,"v":94.5},{"s":"k","f":554000,"v":93.5},{"s":"k","f":590000,"v":96.3},{"s":"k","f":627000,"v":97.2},{"s":"k","f":677000,"v":100.7},{"s":"k","f":720000,"v":100.9},{"s":"k","f":778000,"v":96.3},{"s":"k","f":800000,"v":97.0},{"s":"k","f":840000,"v":94.6},{"s":"k","f":920000,"v":90.4},{"s":"k","f":1010000,"v":86.3},{"s":"k","f":1110000,"v":82.5},{"s":"k","f":1210000,"v":78.5},{"s":"k","f":1290000,"v":77.2},{"s":"k","f":1420000,"v":79.0},{"s":"k","f":1600000,"v":82.5},{"s":"k","f":1810000,"v":84.3},{"s":"k","f":2050000,"v":82.4},{"s":"k","f":2310000,"v":82.5},{"s":"k","f":2610000,"v":83.0},{"s":"k","f":2860000,"v":80.8},{"s":"k","f":3140000,"v":78.2},{"s":"k","f":3440000,"v":77.6},{"s":"k","f":3780000,"v":75.2},{"s":"k","f":4140000,"v":73.8},{"s":"k","f":4540000,"v":75.0},{"s":"k","f":5140000,"v":80.3},{"s":"k","f":5810000,"v":84.0},{"s":"k","f":6560000,"v":85.6},{"s":"k","f":7190000,"v":80.8},{"s":"k","f":7890000,"v":76.3},{"s":"k","f":8650000,"v":73.9},{"s":"k","f":10000000,"v":69.8},
      {"s":"b","f":10030,"v":88.9},{"s":"b","f":10500,"v":88.0},{"s":"b","f":10850,"v":85.2},{"s":"b","f":11400,"v":78.8},{"s":"b","f":12100,"v":74.8},{"s":"b","f":12700,"v":75.1},{"s":"b","f":13200,"v":75.5},{"s":"b","f":13800,"v":73.9},{"s":"b","f":14300,"v":77.8},{"s":"b","f":15100,"v":80.1},{"s":"b","f":15900,"v":82.9},{"s":"b","f":17100,"v":86.1},{"s":"b","f":18200,"v":93.1},{"s":"b","f":19000,"v":102.8},{"s":"b","f":19900,"v":103.9},{"s":"b","f":20800,"v":95.4},{"s":"b","f":22100,"v":86.1},{"s":"b","f":23200,"v":80.6},{"s":"b","f":24400,"v":77.8},{"s":"b","f":25200,"v":72.7},{"s":"b","f":26200,"v":72.3},{"s":"b","f":27100,"v":76.9},{"s":"b","f":28600,"v":81.5},{"s":"b","f":29900,"v":80.1},{"s":"b","f":31200,"v":74.6},{"s":"b","f":32300,"v":70.9},{"s":"b","f":33600,"v":70.2},{"s":"b","f":34700,"v":75.5},{"s":"b","f":36600,"v":82.4},{"s":"b","f":38300,"v":89.8},{"s":"b","f":39700,"v":90.1},{"s":"b","f":41500,"v":83.8},{"s":"b","f":43000,"v":77.8},{"s":"b","f":44600,"v":70.0},{"s":"b","f":46600,"v":70.4},{"s":"b","f":48200,"v":76.0},{"s":"b","f":50400,"v":76.9},{"s":"b","f":52700,"v":69.0},{"s":"b","f":55100,"v":76.4},{"s":"b","f":57100,"v":86.6},{"s":"b","f":59800,"v":89.6},{"s":"b","f":62500,"v":81.1},{"s":"b","f":65100,"v":73.0},{"s":"b","f":67400,"v":79.7},{"s":"b","f":70000,"v":79.2},{"s":"b","f":73000,"v":72.3},{"s":"b","f":75700,"v":87.1},{"s":"b","f":79700,"v":86.1},{"s":"b","f":83600,"v":79.2},{"s":"b","f":86700,"v":74.8},{"s":"b","f":90600,"v":73.9},{"s":"b","f":94000,"v":74.8},{"s":"b","f":99000,"v":76.0},{"s":"b","f":104200,"v":73.2},{"s":"b","f":109100,"v":78.8},{"s":"b","f":114000,"v":81.5},{"s":"b","f":119000,"v":83.4},{"s":"b","f":121000,"v":83.8},{"s":"b","f":124000,"v":78.8},{"s":"b","f":130000,"v":77.0},{"s":"b","f":135000,"v":80.0},{"s":"b","f":140000,"v":75.5},{"s":"b","f":145000,"v":72.7},{"s":"b","f":147000,"v":76.5},{"s":"b","f":150000,"v":88.0},{"s":"b","f":160000,"v":88.5},{"s":"b","f":175000,"v":88.2},{"s":"b","f":189000,"v":86.8},{"s":"b","f":200000,"v":88.0},{"s":"b","f":217000,"v":88.8},{"s":"b","f":253000,"v":90.3},{"s":"b","f":295000,"v":91.0},{"s":"b","f":344000,"v":91.4},{"s":"b","f":402000,"v":92.8},{"s":"b","f":469000,"v":95.0},{"s":"b","f":546000,"v":97.0},{"s":"b","f":637000,"v":100.2},{"s":"b","f":698000,"v":102.6},{"s":"b","f":766000,"v":100.1},{"s":"b","f":840000,"v":95.3},{"s":"b","f":920000,"v":91.0},{"s":"b","f":1010000,"v":86.8},{"s":"b","f":1110000,"v":83.0},{"s":"b","f":1210000,"v":78.9},{"s":"b","f":1290000,"v":77.5},{"s":"b","f":1420000,"v":79.4},{"s":"b","f":1600000,"v":83.0},{"s":"b","f":1810000,"v":84.8},{"s":"b","f":2050000,"v":82.9},{"s":"b","f":2310000,"v":83.3},{"s":"b","f":2610000,"v":84.2},{"s":"b","f":2860000,"v":81.7},{"s":"b","f":3140000,"v":79.2},{"s":"b","f":3440000,"v":78.3},{"s":"b","f":3780000,"v":75.7},{"s":"b","f":4140000,"v":74.2},{"s":"b","f":4540000,"v":75.6},{"s":"b","f":5140000,"v":81.0},{"s":"b","f":5810000,"v":84.8},{"s":"b","f":6560000,"v":86.2},{"s":"b","f":7190000,"v":81.2},{"s":"b","f":7890000,"v":76.8},{"s":"b","f":8650000,"v":74.4},{"s":"b","f":10000000,"v":70.5},
      {"s":"r","f":10030,"v":90.3},{"s":"r","f":10400,"v":91.5},{"s":"r","f":11000,"v":90.5},{"s":"r","f":11600,"v":86.6},{"s":"r","f":12000,"v":83.4},{"s":"r","f":12300,"v":79.0},{"s":"r","f":12900,"v":78.3},{"s":"r","f":13700,"v":77.1},{"s":"r","f":14300,"v":77.8},{"s":"r","f":15000,"v":79.2},{"s":"r","f":15600,"v":88.9},{"s":"r","f":16200,"v":97.2},{"s":"r","f":16800,"v":103.0},{"s":"r","f":18000,"v":102.5},{"s":"r","f":19700,"v":102.1},{"s":"r","f":20800,"v":102.3},{"s":"r","f":22700,"v":101.6},{"s":"r","f":23300,"v":98.6},{"s":"r","f":24000,"v":90.3},{"s":"r","f":24700,"v":79.2},{"s":"r","f":25400,"v":80.6},{"s":"r","f":26200,"v":82.2},{"s":"r","f":26900,"v":78.8},{"s":"r","f":28600,"v":77.8},{"s":"r","f":30200,"v":78.3},{"s":"r","f":31800,"v":78.5},{"s":"r","f":33000,"v":81.5},{"s":"r","f":34200,"v":89.8},{"s":"r","f":35100,"v":88.2},{"s":"r","f":37000,"v":89.1},{"s":"r","f":38600,"v":88.5},{"s":"r","f":42300,"v":87.8},{"s":"r","f":46200,"v":87.1},{"s":"r","f":47400,"v":73.2},{"s":"r","f":49600,"v":71.8},{"s":"r","f":50900,"v":88.2},{"s":"r","f":55100,"v":88.0},{"s":"r","f":60300,"v":87.3},{"s":"r","f":65700,"v":86.8},{"s":"r","f":69300,"v":85.5},{"s":"r","f":75700,"v":85.9},{"s":"r","f":81500,"v":84.8},{"s":"r","f":87300,"v":84.5},{"s":"r","f":92000,"v":84.3},{"s":"r","f":94000,"v":76.0},{"s":"r","f":99000,"v":76.4},{"s":"r","f":101700,"v":83.4},{"s":"r","f":114000,"v":82.0},{"s":"r","f":121000,"v":82.4},{"s":"r","f":129000,"v":81.1},{"s":"r","f":137000,"v":80.1},{"s":"r","f":140000,"v":78.3},{"s":"r","f":144000,"v":78.8},{"s":"r","f":147000,"v":86.6},{"s":"r","f":160000,"v":87.5},{"s":"r","f":175000,"v":87.5},{"s":"r","f":187000,"v":88.5},{"s":"r","f":200000,"v":88.2},{"s":"r","f":217000,"v":88.9},{"s":"r","f":235000,"v":89.9},{"s":"r","f":253000,"v":90.8},{"s":"r","f":275000,"v":90.6},{"s":"r","f":295000,"v":91.2},{"s":"r","f":320000,"v":91.2},{"s":"r","f":344000,"v":91.7},{"s":"r","f":372000,"v":92.3},{"s":"r","f":402000,"v":93.1},{"s":"r","f":435000,"v":94.0},{"s":"r","f":469000,"v":95.4},{"s":"r","f":505000,"v":96.0},{"s":"r","f":546000,"v":97.2},{"s":"r","f":590000,"v":98.9},{"s":"r","f":637000,"v":100.5},{"s":"r","f":665000,"v":101.6},{"s":"r","f":698000,"v":102.5},{"s":"r","f":730000,"v":101.5},{"s":"r","f":766000,"v":100.0},{"s":"r","f":800000,"v":97.8},{"s":"r","f":840000,"v":95.4},{"s":"r","f":880000,"v":93.2},{"s":"r","f":920000,"v":91.2},{"s":"r","f":965000,"v":89.0},{"s":"r","f":1010000,"v":87.1},{"s":"r","f":1060000,"v":85.1},{"s":"r","f":1110000,"v":83.4},{"s":"r","f":1160000,"v":81.2},{"s":"r","f":1210000,"v":79.2},{"s":"r","f":1250000,"v":78.3},{"s":"r","f":1290000,"v":77.8},{"s":"r","f":1350000,"v":78.6},{"s":"r","f":1420000,"v":79.7},{"s":"r","f":1510000,"v":81.6},{"s":"r","f":1600000,"v":83.4},{"s":"r","f":1700000,"v":84.4},{"s":"r","f":1810000,"v":85.2},{"s":"r","f":1930000,"v":84.0},{"s":"r","f":2050000,"v":83.4},{"s":"r","f":2180000,"v":83.2},{"s":"r","f":2310000,"v":83.8},{"s":"r","f":2460000,"v":84.2},{"s":"r","f":2610000,"v":85.0},{"s":"r","f":2730000,"v":84.0},{"s":"r","f":2860000,"v":82.4},{"s":"r","f":3000000,"v":81.0},{"s":"r","f":3140000,"v":79.7},{"s":"r","f":3290000,"v":79.4},{"s":"r","f":3440000,"v":78.8},{"s":"r","f":3600000,"v":77.5},{"s":"r","f":3780000,"v":76.0},{"s":"r","f":3950000,"v":75.2},{"s":"r","f":4140000,"v":74.6},{"s":"r","f":4340000,"v":75.0},{"s":"r","f":4540000,"v":76.0},{"s":"r","f":4830000,"v":78.8},{"s":"r","f":5140000,"v":81.5},{"s":"r","f":5470000,"v":83.6},{"s":"r","f":5810000,"v":85.2},{"s":"r","f":6170000,"v":86.0},{"s":"r","f":6560000,"v":86.6},{"s":"r","f":6850000,"v":84.0},{"s":"r","f":7190000,"v":81.5},{"s":"r","f":7500000,"v":79.2},{"s":"r","f":7890000,"v":76.9},{"s":"r","f":8250000,"v":75.6},{"s":"r","f":8650000,"v":74.6},{"s":"r","f":9300000,"v":72.6},{"s":"r","f":10000000,"v":70.9}
    ]
  },
  "columns": 2,
  "bounds": "flush",
  "spacing": {"row": 349, "column": 377},
  "resolve": {"scale": {"color": "independent"}, "legend": {"color": "independent"}},
  "concat": [
    {
      "width": 1299, "height": 732,
      "data": {"name": "a"},
      "title": {"text": "(a) 24 V-N", "orient": "bottom", "offset": 31},
      "layer": [
        {
          "mark": {"type": "line", "strokeWidth": 3.4, "clip": true},
          "encoding": {
            "x": {"field": "f", "type": "quantitative", "scale": {"type": "log", "domain": [10000, 10000000], "nice": false},
              "axis": {"orient": "bottom", "title": "频率/Hz", "values": [10000,20000,30000,40000,50000,60000,70000,80000,90000,100000,200000,300000,400000,500000,600000,700000,800000,900000,1000000,2000000,3000000,4000000,5000000,6000000,7000000,8000000,9000000,10000000],
                "labelExpr": "datum.value==10000?'10⁴':datum.value==100000?'10⁵':datum.value==1000000?'10⁶':datum.value==10000000?'10⁷':''",
                "labelFlush": false, "labelOverlap": false, "labelBound": false, "labelPadding": 38, "titlePadding": 23, "grid": true,
                "gridDash": {"condition": {"test": "indexof([10000,100000,1000000,10000000],datum.value)>=0", "value": []}, "value": [4, 4]},
                "tickSize": {"condition": {"test": "indexof([10000,100000,1000000,10000000],datum.value)>=0", "value": -15}, "value": -8}}},
            "y": {"field": "v", "type": "quantitative", "scale": {"domain": [40, 110], "nice": false, "zero": false},
              "axis": {"orient": "left", "title": "幅值/dBμV", "values": [40,50,60,70,80,90,100,110], "labelPadding": 42, "titlePadding": 20, "grid": true, "tickSize": -15}},
            "color": {"field": "s", "type": "nominal", "scale": {"domain": ["k", "b", "r"], "range": ["#1e1e1e", "#0000ff", "#ff0000"]},
              "legend": {"title": null, "labelExpr": "datum.label=='k'?'SVPWM':datum.label=='b'?'RSF-SVPWM':'PSF-SVPWM'"}}
          }
        },
        {
          "mark": {"type": "point", "opacity": 0},
          "encoding": {
            "x": {"field": "f", "type": "quantitative",
              "axis": {"orient": "top", "title": null, "labels": false, "grid": false, "values": [10000,20000,30000,40000,50000,60000,70000,80000,90000,100000,200000,300000,400000,500000,600000,700000,800000,900000,1000000,2000000,3000000,4000000,5000000,6000000,7000000,8000000,9000000,10000000],
                "tickSize": {"condition": {"test": "indexof([10000,100000,1000000,10000000],datum.value)>=0", "value": -15}, "value": -8}}},
            "y": {"field": "v", "type": "quantitative", "axis": {"orient": "right", "title": null, "labels": false, "grid": false, "values": [40,50,60,70,80,90,100,110], "tickSize": -15}}
          }
        }
      ],
      "resolve": {"axis": {"x": "independent", "y": "independent"}}
    },
    {
      "width": 1299, "height": 732,
      "data": {"name": "b"},
      "title": {"text": "(b) 24 V-P", "orient": "bottom", "offset": 31},
      "layer": [
        {
          "mark": {"type": "line", "strokeWidth": 3.4, "clip": true},
          "encoding": {
            "x": {"field": "f", "type": "quantitative", "scale": {"type": "log", "domain": [10000, 10000000], "nice": false},
              "axis": {"orient": "bottom", "title": "频率/Hz", "values": [10000,20000,30000,40000,50000,60000,70000,80000,90000,100000,200000,300000,400000,500000,600000,700000,800000,900000,1000000,2000000,3000000,4000000,5000000,6000000,7000000,8000000,9000000,10000000],
                "labelExpr": "datum.value==10000?'10⁴':datum.value==100000?'10⁵':datum.value==1000000?'10⁶':datum.value==10000000?'10⁷':''",
                "labelFlush": false, "labelOverlap": false, "labelBound": false, "labelPadding": 38, "titlePadding": 23, "grid": true,
                "gridDash": {"condition": {"test": "indexof([10000,100000,1000000,10000000],datum.value)>=0", "value": []}, "value": [4, 4]},
                "tickSize": {"condition": {"test": "indexof([10000,100000,1000000,10000000],datum.value)>=0", "value": -15}, "value": -8}}},
            "y": {"field": "v", "type": "quantitative", "scale": {"domain": [40, 110], "nice": false, "zero": false},
              "axis": {"orient": "left", "title": "幅值/dBμV", "values": [40,50,60,70,80,90,100,110], "labelPadding": 42, "titlePadding": 20, "grid": true, "tickSize": -15}},
            "color": {"field": "s", "type": "nominal", "scale": {"domain": ["k", "b", "r"], "range": ["#1e1e1e", "#0000ff", "#ff0000"]},
              "legend": {"title": null, "labelExpr": "datum.label=='k'?'SVPWM':datum.label=='b'?'RSF-SVPWM':'PSF-SVPWM'"}}
          }
        },
        {
          "mark": {"type": "point", "opacity": 0},
          "encoding": {
            "x": {"field": "f", "type": "quantitative",
              "axis": {"orient": "top", "title": null, "labels": false, "grid": false, "values": [10000,20000,30000,40000,50000,60000,70000,80000,90000,100000,200000,300000,400000,500000,600000,700000,800000,900000,1000000,2000000,3000000,4000000,5000000,6000000,7000000,8000000,9000000,10000000],
                "tickSize": {"condition": {"test": "indexof([10000,100000,1000000,10000000],datum.value)>=0", "value": -15}, "value": -8}}},
            "y": {"field": "v", "type": "quantitative", "axis": {"orient": "right", "title": null, "labels": false, "grid": false, "values": [40,50,60,70,80,90,100,110], "tickSize": -15}}
          }
        }
      ],
      "resolve": {"axis": {"x": "independent", "y": "independent"}}
    },
    {
      "width": 1299, "height": 732,
      "data": {"name": "c"},
      "title": {"text": "(c) 48 V-N", "orient": "bottom", "offset": 31},
      "layer": [
        {
          "mark": {"type": "line", "strokeWidth": 3.4, "clip": true},
          "encoding": {
            "x": {"field": "f", "type": "quantitative", "scale": {"type": "log", "domain": [10000, 10000000], "nice": false},
              "axis": {"orient": "bottom", "title": "频率/Hz", "values": [10000,20000,30000,40000,50000,60000,70000,80000,90000,100000,200000,300000,400000,500000,600000,700000,800000,900000,1000000,2000000,3000000,4000000,5000000,6000000,7000000,8000000,9000000,10000000],
                "labelExpr": "datum.value==10000?'10⁴':datum.value==100000?'10⁵':datum.value==1000000?'10⁶':datum.value==10000000?'10⁷':''",
                "labelFlush": false, "labelOverlap": false, "labelBound": false, "labelPadding": 38, "titlePadding": 23, "grid": true,
                "gridDash": {"condition": {"test": "indexof([10000,100000,1000000,10000000],datum.value)>=0", "value": []}, "value": [4, 4]},
                "tickSize": {"condition": {"test": "indexof([10000,100000,1000000,10000000],datum.value)>=0", "value": -15}, "value": -8}}},
            "y": {"field": "v", "type": "quantitative", "scale": {"domain": [40, 110], "nice": false, "zero": false},
              "axis": {"orient": "left", "title": "幅值/dBμV", "values": [40,50,60,70,80,90,100,110], "labelPadding": 42, "titlePadding": 20, "grid": true, "tickSize": -15}},
            "color": {"field": "s", "type": "nominal", "scale": {"domain": ["k", "b", "r"], "range": ["#1e1e1e", "#0000ff", "#ff0000"]},
              "legend": {"title": null, "labelExpr": "datum.label=='k'?'SVPWM':datum.label=='b'?'RSF-SVPWM':'PSF-SVPWM'"}}
          }
        },
        {
          "mark": {"type": "point", "opacity": 0},
          "encoding": {
            "x": {"field": "f", "type": "quantitative",
              "axis": {"orient": "top", "title": null, "labels": false, "grid": false, "values": [10000,20000,30000,40000,50000,60000,70000,80000,90000,100000,200000,300000,400000,500000,600000,700000,800000,900000,1000000,2000000,3000000,4000000,5000000,6000000,7000000,8000000,9000000,10000000],
                "tickSize": {"condition": {"test": "indexof([10000,100000,1000000,10000000],datum.value)>=0", "value": -15}, "value": -8}}},
            "y": {"field": "v", "type": "quantitative", "axis": {"orient": "right", "title": null, "labels": false, "grid": false, "values": [40,50,60,70,80,90,100,110], "tickSize": -15}}
          }
        }
      ],
      "resolve": {"axis": {"x": "independent", "y": "independent"}}
    },
    {
      "width": 1299, "height": 732,
      "data": {"name": "d"},
      "title": {"text": "(d) 48 V-P", "orient": "bottom", "offset": 31},
      "layer": [
        {
          "mark": {"type": "line", "strokeWidth": 3.4, "clip": true},
          "encoding": {
            "x": {"field": "f", "type": "quantitative", "scale": {"type": "log", "domain": [10000, 10000000], "nice": false},
              "axis": {"orient": "bottom", "title": "频率/Hz", "values": [10000,20000,30000,40000,50000,60000,70000,80000,90000,100000,200000,300000,400000,500000,600000,700000,800000,900000,1000000,2000000,3000000,4000000,5000000,6000000,7000000,8000000,9000000,10000000],
                "labelExpr": "datum.value==10000?'10⁴':datum.value==100000?'10⁵':datum.value==1000000?'10⁶':datum.value==10000000?'10⁷':''",
                "labelFlush": false, "labelOverlap": false, "labelBound": false, "labelPadding": 38, "titlePadding": 23, "grid": true,
                "gridDash": {"condition": {"test": "indexof([10000,100000,1000000,10000000],datum.value)>=0", "value": []}, "value": [4, 4]},
                "tickSize": {"condition": {"test": "indexof([10000,100000,1000000,10000000],datum.value)>=0", "value": -15}, "value": -8}}},
            "y": {"field": "v", "type": "quantitative", "scale": {"domain": [40, 110], "nice": false, "zero": false},
              "axis": {"orient": "left", "title": "幅值/dBμV", "values": [40,50,60,70,80,90,100,110], "labelPadding": 42, "titlePadding": 20, "grid": true, "tickSize": -15}},
            "color": {"field": "s", "type": "nominal", "scale": {"domain": ["k", "b", "r"], "range": ["#1e1e1e", "#0000ff", "#ff0000"]},
              "legend": {"title": null, "labelExpr": "datum.label=='k'?'SVPWM':datum.label=='b'?'RSF-SVPWM':'PSF-SVPWM'"}}
          }
        },
        {
          "mark": {"type": "point", "opacity": 0},
          "encoding": {
            "x": {"field": "f", "type": "quantitative",
              "axis": {"orient": "top", "title": null, "labels": false, "grid": false, "values": [10000,20000,30000,40000,50000,60000,70000,80000,90000,100000,200000,300000,400000,500000,600000,700000,800000,900000,1000000,2000000,3000000,4000000,5000000,6000000,7000000,8000000,9000000,10000000],
                "tickSize": {"condition": {"test": "indexof([10000,100000,1000000,10000000],datum.value)>=0", "value": -15}, "value": -8}}},
            "y": {"field": "v", "type": "quantitative", "axis": {"orient": "right", "title": null, "labels": false, "grid": false, "values": [40,50,60,70,80,90,100,110], "tickSize": -15}}
          }
        }
      ],
      "resolve": {"axis": {"x": "independent", "y": "independent"}}
    }
  ]
}
